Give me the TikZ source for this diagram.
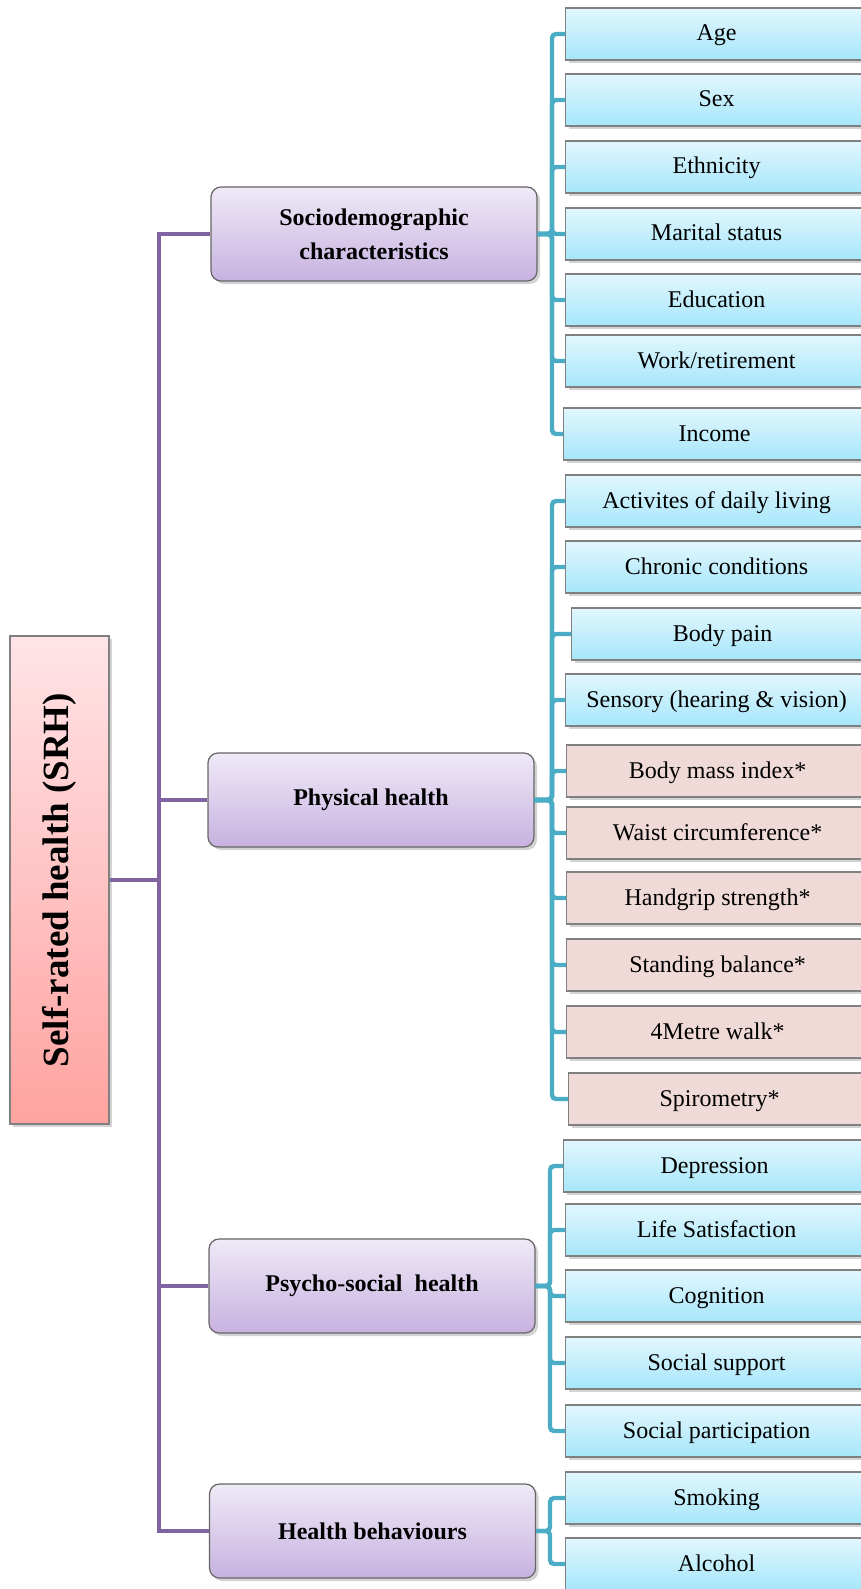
\documentclass[tikz,border=0pt]{standalone}
\usepackage{fontspec}
\setmainfont{Liberation Serif}
\usepackage{xcolor}
\usepackage{tikz}
\usetikzlibrary{shadows, calc}
\definecolor{trunkpurple}{HTML}{8064A2}
\definecolor{busteal}{HTML}{4BACC6}
\definecolor{leaftop}{HTML}{E2F7FE}
\definecolor{leafbot}{HTML}{A6E6FA}
\definecolor{leafpink}{HTML}{EFDAD8}
\definecolor{cattop}{HTML}{EFE9F7}
\definecolor{catbot}{HTML}{C7B2E0}
\definecolor{roottop}{HTML}{FFE4E7}
\definecolor{rootbot}{HTML}{FFA3A0}
\tikzstyle{trunkline} = [line width=2pt, draw=trunkpurple]
\tikzstyle{busline} = [line width=2.2pt, draw=busteal, rounded corners=2pt]
\tikzstyle{leaf} = [rectangle, anchor=west, minimum width=151pt, minimum height=26pt, text height=10pt, text depth=3pt, draw=black!50, line width=0.6pt, top color=leaftop, bottom color=leafbot, drop shadow={shadow xshift=1.5pt, shadow yshift=-1.5pt, opacity=0.35}, font=\fontsize{12}{14}\selectfont]
\tikzstyle{leafred} = [leaf, top color=leafpink, bottom color=leafpink]
\tikzstyle{category} = [rectangle, rounded corners=5pt, minimum width=163pt, minimum height=47pt, draw=black!60, line width=0.6pt, top color=cattop, bottom color=catbot, drop shadow={shadow xshift=1.5pt, shadow yshift=-1.5pt, opacity=0.35}, align=center, font=\bfseries\fontsize{12}{17}\selectfont]
\tikzstyle{rootbox} = [rectangle, rotate=90, minimum width=244pt, minimum height=49.5pt, draw=black!50, line width=0.6pt, top color=roottop, bottom color=rootbot, drop shadow={shadow xshift=1.5pt, shadow yshift=-1.5pt, opacity=0.35}, font=\bfseries\fontsize{18.5}{22}\selectfont]

\begin{document}
\begin{tikzpicture}[x=0.5pt, y=-0.5pt]
\useasboundingbox (0,0) rectangle (861,1589);

\node[rootbox] (srh) at (59.5,880) {Self-rated health (SRH)};

\node[category] (socio) at (374,234) {Sociodemographic\\characteristics};
\node[category] (phys) at (371,800) {Physical health};
\node[category] (psy) at (372,1286) {Psycho-social\ \ health};
\node[category] (behav) at (372.5,1531) {Health behaviours};

\node[leaf] (age) at (565,34) {Age};
\node[leaf] (sex) at (565,100) {Sex};
\node[leaf] (ethnic) at (565,167) {Ethnicity};
\node[leaf] (marital) at (565,234) {Marital status};
\node[leaf] (educ) at (565,300) {Education};
\node[leaf] (work) at (565,361) {Work/retirement};
\node[leaf] (income) at (563,434) {Income};

\node[leaf] (adl) at (565,501) {Activites of daily living};
\node[leaf] (chronic) at (565,567) {Chronic conditions};
\node[leaf] (pain) at (571,634) {Body pain};
\node[leaf] (sensory) at (565,700) {Sensory (hearing \& vision)};
\node[leafred] (bmi) at (566,771) {Body mass index*};
\node[leafred] (waist) at (566,833) {Waist circumference*};
\node[leafred] (grip) at (566,898) {Handgrip strength*};
\node[leafred] (balance) at (566,965) {Standing balance*};
\node[leafred] (walk) at (566,1032) {4Metre walk*};
\node[leafred] (spiro) at (568,1099) {Spirometry*};

\node[leaf] (depress) at (563,1166) {Depression};
\node[leaf] (lifesat) at (565,1230) {Life Satisfaction};
\node[leaf] (cognit) at (565,1296) {Cognition};
\node[leaf] (support) at (565,1363) {Social support};
\node[leaf] (particip) at (565,1431) {Social participation};

\node[leaf] (smoke) at (565,1498) {Smoking};
\node[leaf] (alcohol) at (565,1564) {Alcohol};

\coordinate (trunk) at (159,880);
\coordinate (bus1) at (552,0);
\coordinate (bus2) at (552,0);
\coordinate (bus3) at (550,0);
\coordinate (bus4) at (550,0);

\foreach \c in {socio,phys,psy,behav}
    \draw[trunkline] (srh.south) -- (srh.south -| trunk) |- (\c.west);

\foreach \n in {age,sex,ethnic,marital,educ,work,income}
    \draw[busline] (socio.east) -- (bus1 |- socio.east) |- (\n.west);
\foreach \n in {adl,chronic,pain,sensory,bmi,waist,grip,balance,walk,spiro}
    \draw[busline] (phys.east) -- (bus2 |- phys.east) |- (\n.west);
\foreach \n in {depress,lifesat,cognit,support,particip}
    \draw[busline] (psy.east) -- (bus3 |- psy.east) |- (\n.west);
\foreach \n in {smoke,alcohol}
    \draw[busline] (behav.east) -- (bus4 |- behav.east) |- (\n.west);

\end{tikzpicture}
\end{document}
